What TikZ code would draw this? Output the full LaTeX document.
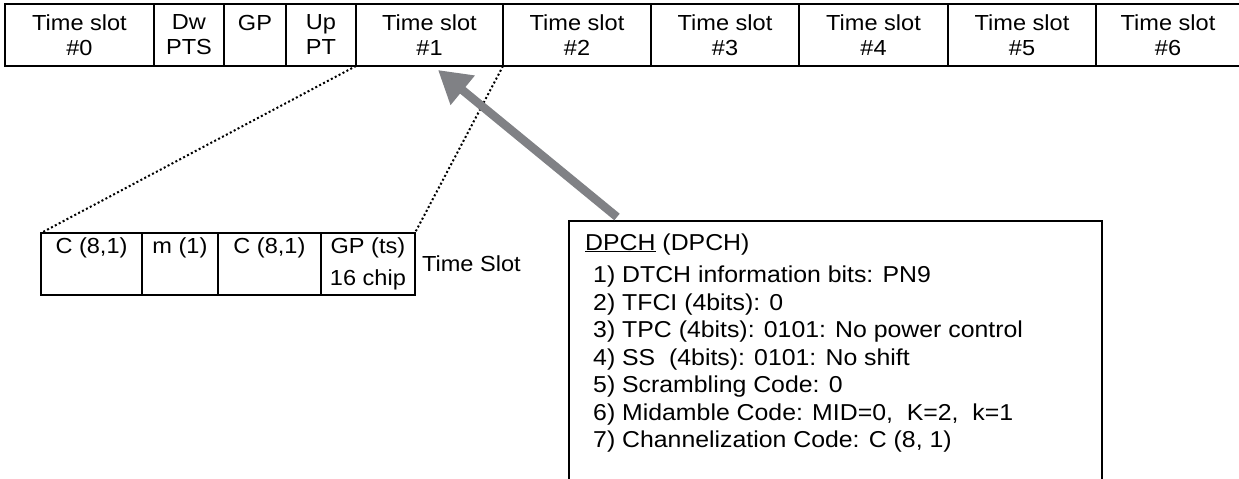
\documentclass[tikz,border=0pt]{standalone}
\usepackage{fontspec}
\setmainfont{Liberation Sans}[FakeStretch=1.08]
\usetikzlibrary{positioning,arrows.meta}
\definecolor{arrowgray}{RGB}{128,129,133}

\begin{document}
\begin{tikzpicture}[
    x=1pt, y=-1pt,
    every node/.style={font=\fontsize{21.8}{25}\selectfont},
    slot/.style={rectangle, draw, line width=1.2pt, anchor=north west, minimum height=62pt, inner sep=0pt, outer sep=0pt, align=center},
    part/.style={slot, font=\fontsize{21.8}{31.5}\selectfont},
    item/.style={anchor=base west, inner sep=0pt, font=\fontsize{23}{25}\selectfont},
    dotline/.style={line width=2pt, dash pattern=on 2pt off 2.4pt},
    bigarrow/.style={-{Triangle[length=32pt,width=36pt]}, line width=8.5pt, color=arrowgray}
]
    \useasboundingbox (0,0) rectangle (1239,479);

    % frame structure
    \node[slot, minimum width=149pt] (ts0) at (5,4) {Time slot\\\#0};
    \node[slot, minimum width=70pt] (dwpts) at (ts0.north east) {Dw\\PTS};
    \node[slot, minimum width=62pt] (gp) at (dwpts.north east) {GP\\\phantom{PT}};
    \node[slot, minimum width=70pt] (uppts) at (gp.north east) {Up\\PT};
    \node[slot, minimum width=147pt] (ts1) at (uppts.north east) {Time slot\\\#1};
    \node[slot, minimum width=148pt] (ts2) at (ts1.north east) {Time slot\\\#2};
    \node[slot, minimum width=148pt] (ts3) at (ts2.north east) {Time slot\\\#3};
    \node[slot, minimum width=149pt] (ts4) at (ts3.north east) {Time slot\\\#4};
    \node[slot, minimum width=148pt] (ts5) at (ts4.north east) {Time slot\\\#5};
    \node[slot, minimum width=144pt] (ts6) at (ts5.north east) {Time slot\\\#6};

    % time slot contents
    \node[part, minimum width=101pt] (code1) at (41,233) {C (8,1)\\\phantom{16 chip}};
    \node[part, minimum width=72pt] (mid) at (code1.north east) {m (1)\\\phantom{16 chip}};
    \node[part, minimum width=103pt] (code2) at (mid.north east) {C (8,1)\\\phantom{16 chip}};
    \node[part, minimum width=94pt] (gpts) at (code2.north east) {GP (ts)\\16 chip};
    \node[right=7pt of gpts, inner sep=0pt] (tslabel) {Time Slot};

    \draw[dotline] (ts1.south west) -- (code1.north west);
    \draw[dotline] (ts1.south east) -- (gpts.north east);

    % DPCH settings
    \node[slot, minimum width=533pt, minimum height=300pt] (dpch) at (569,221) {};
    \node[item] (dpchtitle) at (585,250) {\underline{DPCH} (DPCH)};
    \node[item] (item1) at (593,282.7) {1) DTCH information bits: PN9};
    \node[item] (item2) at (593,310.2) {2) TFCI (4bits): 0};
    \node[item] (item3) at (593,337.7) {3) TPC (4bits): 0101: No power control};
    \node[item] (item4) at (593,365.2) {4) SS~ (4bits): 0101: No shift};
    \node[item] (item5) at (593,392.7) {5) Scrambling Code: 0};
    \node[item] (item6) at (593,420.2) {6) Midamble Code: MID=0,~ K=2,~ k=1};
    \node[item] (item7) at (593,447.7) {7) Channelization Code: C (8, 1)};

    \coordinate (tail) at ([xshift=48pt,yshift=4pt]dpch.north west);
    \coordinate (tip) at ([xshift=82pt,yshift=-4pt]ts1.south west);
    \draw[bigarrow] (tail) -- (tip);
\end{tikzpicture}
\end{document}
